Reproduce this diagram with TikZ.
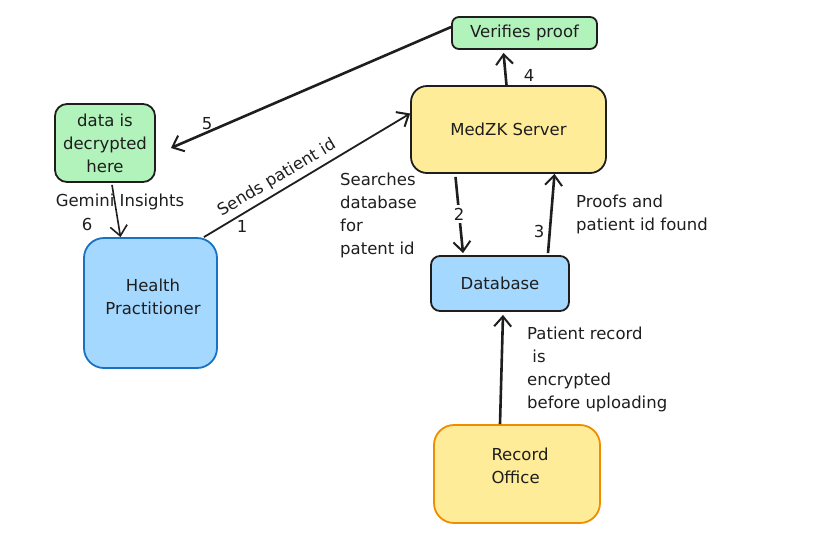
\documentclass[tikz,border=0pt]{standalone}
\usepackage{fontspec}
\setmainfont{DejaVu Sans}
\usetikzlibrary{arrows.meta,calc}
\definecolor{ink}{HTML}{1E1E1E}
\definecolor{fgreen}{HTML}{B2F2BB}
\definecolor{fyellow}{HTML}{FFEC99}
\definecolor{fblue}{HTML}{A5D8FF}
\definecolor{bblue}{HTML}{1971C2}
\definecolor{borange}{HTML}{F08C00}
\tikzset{
  every node/.style={font=\fontsize{16.5}{23}\selectfont, text=ink},
  box/.style={draw=ink, line width=1.8pt, rounded corners=12pt, inner sep=0pt, align=center},
  conn/.style={draw=ink, line width=2.6pt, -{Straight Barb[length=10pt,width=17pt,line width=2pt]}},
  thinconn/.style={draw=ink, line width=1.6pt, -{Straight Barb[length=10pt,width=17pt,line width=1.6pt]}},
  lbl/.style={align=left, inner sep=0pt, anchor=north west},
  num/.style={inner sep=0pt},
}
\begin{document}
\begin{tikzpicture}[x=1pt,y=-1pt]
\useasboundingbox (0,0) rectangle (838,539);
% boxes
\node[box, fill=fgreen, minimum width=145pt, minimum height=32pt, rounded corners=7pt] (ver) at (524.5,33) {Verifies proof};
\node[box, fill=fgreen, minimum width=100pt, minimum height=78pt] (dec) at (105,143) {data is\\decrypted\\here};
\node[box, fill=fyellow, minimum width=195pt, minimum height=87pt, rounded corners=16pt] (med) at (508.5,129.5) {MedZK Server};
\node[box, draw=bblue, fill=fblue, minimum width=133pt, minimum height=130pt, rounded corners=20pt] (hp) at (150.5,303) {};
\node[align=center, inner sep=0pt] (hpt) at (153,297) {Health\\Practitioner};
\node[box, fill=fblue, minimum width=138pt, minimum height=55pt, rounded corners=9pt] (db) at (500,283.5) {Database};
\node[box, draw=borange, fill=fyellow, minimum width=166pt, minimum height=98pt, rounded corners=20pt] (ro) at (517,474) {};
\node[align=left, inner sep=0pt] (rot) at (520,466) {Record\\Office};
% free end coordinate
\coordinate (e5) at ($(dec.east)+(15,5)$);
% connectors
\draw[conn] ($(ver.west)+(0,-6)$) -- (e5);
\draw[conn] ($(med.north)+(-2,0)$) -- ($(ver.south)+(-21,3)$);
\draw[conn, line width=1.8pt] ($(hp.north east)+(-14,0)$) -- ($(med.west)+(0,-16)$);
\draw[conn] ($(med.south)+(-53,3)$) -- ($(db.north)+(-37,-2)$);
\draw[conn] ($(db.north)+(48,-2)$) -- ($(med.south)+(46,0)$);
\draw[conn] ($(ro.north)+(-17,0)$) -- ($(db.south)+(3,3)$);
\draw[thinconn] ($(dec.south)+(7,2)$) -- ($(hp.north)+(-30,0)$);
% numbers
\node[num] (n1) at (242,226) {1};
\node[num, fill=white, inner sep=3pt] (n2) at (459,214) {2};
\node[num] (n3) at (539,231) {3};
\node[num] (n4) at (529,75) {4};
\node[num] (n5) at (207,124) {5};
\node[num] (n6) at (87,224) {6};
% labels
\node[inner sep=0pt, rotate=31] (l1) at (277,178) {Sends patient id};
\node[inner sep=0pt] (l6) at (120,202) {Gemini Insights};
\node[lbl] (l2) at (340,173) {Searches\\database\\for\\patent id};
\node[lbl] (l3) at (576,195) {Proofs and\\patient id found};
\node[lbl] (lr) at (527,327) {Patient record\\\ is\\encrypted\\before uploading};
\end{tikzpicture}
\end{document}
